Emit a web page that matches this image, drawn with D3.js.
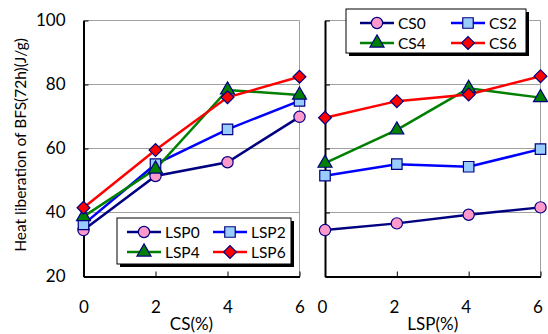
<!DOCTYPE html>
<html>
<head>
<meta charset="utf-8">
<script src="https://cdn.jsdelivr.net/npm/d3@7"></script>
<style>
  body { margin: 0; background: #fff; }
  svg { font-family: Lato, "Open Sans", sans-serif; }
</style>
</head>
<body>
<svg id="chart" width="548" height="334"></svg>
<script>
var xTicks = [0, 2, 4, 6];
var yTicks = [20, 40, 60, 80, 100];

// left panel: x = CS(%), one series per LSP level
var lspNames = ['LSP0', 'LSP2', 'LSP4', 'LSP6'];
var lsp0 = [34.5, 51.4, 55.7, 69.9];
var lsp2 = [36.3, 55.1, 66.0, 74.9];
var lsp4 = [38.7, 53.6, 78.3, 76.7];
var lsp6 = [41.5, 59.5, 76.0, 82.4];

// right panel: x = LSP(%), one series per CS level
var csNames = ['CS0', 'CS2', 'CS4', 'CS6'];
var cs0 = [34.5, 36.6, 39.3, 41.6];
var cs2 = [51.5, 55.1, 54.3, 59.8];
var cs4 = [55.4, 65.8, 78.8, 75.9];
var cs6 = [69.6, 74.8, 76.9, 82.6];

var styles = [
  {line: '#000080', fill: '#ff99cc', shape: 'circle'},
  {line: '#0000ff', fill: '#99ccff', shape: 'square'},
  {line: '#008000', fill: '#008000', shape: 'triangle'},
  {line: '#ff0000', fill: '#ff0000', shape: 'diamond'}
];

var svg = d3.select('#chart');
var y = d3.scaleLinear().domain([20, 100]).range([276.5, 20.5]);

var drawMarker = function (g, shape, cx, cy, fill) {
  var sym = {
    circle: d3.symbolCircle,
    square: d3.symbolSquare,
    triangle: d3.symbolTriangle,
    diamond: d3.symbolSquare
  }[shape];
  var size = {circle: 100, square: 110, triangle: 85, diamond: 82}[shape];
  g.append('path')
    .attr('d', d3.symbol().type(sym).size(size)())
    .attr('transform', 'translate(' + cx + ',' + cy + ')' + (shape == 'diamond' ? ' rotate(45)' : ''))
    .attr('fill', fill)
    .attr('stroke', '#000080')
    .attr('stroke-width', 1.2);
};

var drawPanel = function (x0, x1, series, names, xLabel, showY) {
  var x = d3.scaleLinear().domain([0, 6]).range([x0, x1]);
  var g = svg.append('g');

  // grid + gray top/right frame
  g.selectAll('.grid').data([40, 60, 80, 100]).enter().append('line')
    .attr('x1', x0).attr('x2', x1)
    .attr('y1', function (d) { return y(d); })
    .attr('y2', function (d) { return y(d); })
    .attr('stroke', '#a0a0a0').attr('stroke-width', 1);
  g.append('line').attr('x1', x1).attr('x2', x1).attr('y1', y(100)).attr('y2', y(20))
    .attr('stroke', '#a0a0a0').attr('stroke-width', 1);

  // axes
  var xAxis = d3.axisBottom(x).tickValues(xTicks).tickFormat(d3.format('d'))
    .tickSizeInner(-5).tickSizeOuter(0).tickPadding(24);
  var xg = g.append('g').attr('transform', 'translate(0,' + y(20) + ')').call(xAxis);
  xg.select('.domain').attr('stroke', '#000').attr('stroke-width', 2);
  xg.selectAll('.tick line').attr('stroke', '#000').attr('stroke-width', 1);
  xg.selectAll('.tick text').attr('font-size', 17).attr('fill', '#000').attr('font-family', 'Lato, sans-serif');
  if (!showY) xg.selectAll('.tick text').attr('dx', -3);

  var yAxis = d3.axisLeft(y).tickValues(yTicks).tickFormat(d3.format('d'))
    .tickSizeInner(-5).tickSizeOuter(0).tickPadding(18);
  if (!showY) yAxis.tickFormat('');
  var yg = g.append('g').attr('transform', 'translate(' + x0 + ',0)').call(yAxis);
  yg.select('.domain').attr('stroke', '#000').attr('stroke-width', 2);
  yg.selectAll('.tick line').attr('stroke', '#000').attr('stroke-width', 1);
  yg.selectAll('.tick text').attr('font-size', 17).attr('fill', '#000').attr('font-family', 'Lato, sans-serif');

  g.append('text')
    .attr('x', (x0 + x1) / 2).attr('y', 330)
    .attr('text-anchor', 'middle').attr('font-size', 17)
    .text(xLabel);

  var line = d3.line()
    .x(function (d, i) { return x(xTicks[i]); })
    .y(function (d) { return y(d); });

  series.forEach(function (s, k) {
    g.append('path').datum(s)
      .attr('d', line)
      .attr('fill', 'none')
      .attr('stroke', styles[k].line)
      .attr('stroke-width', 2.5);
  });
  series.forEach(function (s, k) {
    s.forEach(function (v, i) {
      drawMarker(g, styles[k].shape, x(xTicks[i]), y(v), styles[k].fill);
    });
  });
};

var drawLegend = function (bx, by, bw, bh, names, cols) {
  var g = svg.append('g');
  g.append('rect').attr('x', bx + 3).attr('y', by + 3).attr('width', bw).attr('height', bh).attr('fill', '#000');
  g.append('rect').attr('x', bx).attr('y', by).attr('width', bw).attr('height', bh)
    .attr('fill', '#fff').attr('stroke', '#000').attr('stroke-width', 1);
  names.forEach(function (n, k) {
    var cx = cols[k % 2];
    var cy = by + 14 + Math.floor(k / 2) * 20;
    g.append('line').attr('x1', cx - 17).attr('x2', cx + 17).attr('y1', cy).attr('y2', cy)
      .attr('stroke', styles[k].line).attr('stroke-width', 2.5);
    drawMarker(g, styles[k].shape, cx, cy, styles[k].fill);
    g.append('text').attr('x', cx + 21).attr('y', cy + 5.5)
      .attr('font-size', 15.5).text(n);
  });
};

drawPanel(83.5, 299.5, [lsp0, lsp2, lsp4, lsp6], lspNames, 'CS(%)', true);
drawPanel(325, 540.5, [cs0, cs2, cs4, cs6], csNames, 'LSP(%)', false);

drawLegend(117, 218, 174, 46, lspNames, [144, 230]);
drawLegend(346, 9, 180, 44, csNames, [377, 468]);

svg.append('text')
  .attr('transform', 'translate(26,145) rotate(-90)')
  .attr('text-anchor', 'middle')
  .attr('font-size', 15.5)
  .text('Heat liberation of BFS(72h)(J/g)');
</script>
</body>
</html>
